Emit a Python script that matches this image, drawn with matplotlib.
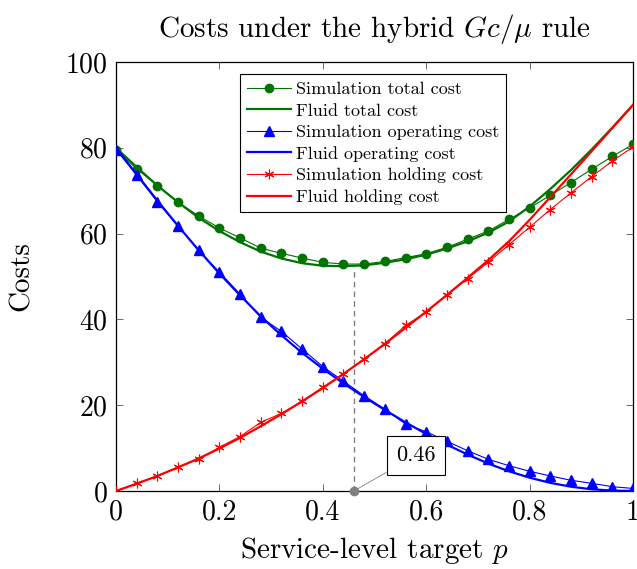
import matplotlib
matplotlib.use("Agg")
import matplotlib.pyplot as plt

plt.rcParams['font.family'] = 'serif'
plt.rcParams['font.serif'] = ['cmr10']
plt.rcParams['mathtext.fontset'] = 'cm'
plt.rcParams['axes.formatter.use_mathtext'] = True

p_sim = [0.00, 0.04, 0.08, 0.12, 0.16, 0.20, 0.24, 0.28, 0.32, 0.36, 0.40, 0.44, 0.48,
         0.52, 0.56, 0.60, 0.64, 0.68, 0.72, 0.76, 0.80, 0.84, 0.88, 0.92, 0.96, 1.00]

sim_total = [79.6, 75.1, 71.2, 67.3, 64.1, 61.3, 59.0, 56.6, 55.4, 54.3, 53.3, 52.9, 52.9,
             53.5, 54.4, 55.3, 56.8, 58.7, 60.6, 63.3, 66.0, 68.9, 71.9, 75.0, 78.0, 80.8]
sim_operating = [79.6, 73.6, 67.4, 61.7, 56.1, 51.0, 45.9, 40.5, 37.2, 33.1, 29.0, 25.6, 22.2,
                 19.1, 15.6, 13.8, 11.6, 9.4, 7.4, 5.9, 4.6, 3.5, 2.5, 1.8, 1.0, 0.6]
sim_holding = [0.0, 1.75, 3.5, 5.6, 7.4, 10.2, 12.7, 16.0, 18.1, 20.9, 24.2, 27.3, 30.8,
               34.3, 38.6, 41.7, 45.6, 49.5, 53.3, 57.4, 61.5, 65.6, 69.5, 73.3, 76.9, 80.2]

p_fluid = p_sim
fluid_operating = [80.0, 73.8, 67.7, 61.8, 56.1, 50.7, 45.6, 40.7, 36.3, 32.2, 28.5, 25.1, 21.9,
                   18.9, 16.0, 13.3, 10.8, 8.5, 6.4, 4.6, 3.1, 1.9, 1.0, 0.4, 0.1, 0.0]
fluid_holding = [0.0, 1.7, 3.5, 5.5, 7.6, 9.9, 12.4, 15.1, 17.9, 20.9, 24.0, 27.3, 30.7,
                 34.3, 38.0, 41.8, 45.7, 49.7, 53.8, 58.2, 63.2, 68.5, 73.8, 79.2, 84.6, 90.0]
fluid_total = [80.0, 75.5, 71.2, 67.3, 63.7, 60.6, 58.0, 55.8, 54.2, 53.1, 52.5, 52.4, 52.6,
               53.2, 54.0, 55.1, 56.5, 58.2, 60.2, 62.8, 66.3, 70.4, 74.8, 79.6, 84.7, 90.0]

p_opt = 0.46
opt_total = 52.3
opt_label = "0.46"

xticks = [0, 0.2, 0.4, 0.6, 0.8, 1]
xticklabels = ["0", "0.2", "0.4", "0.6", "0.8", "1"]
yticks = [0, 20, 40, 60, 80, 100]

green = (0, 0.45, 0)
blue = (0, 0, 1)
red = (1, 0, 0)

fig = plt.figure(figsize=(6.37, 5.69), dpi=100)
ax = fig.add_axes([116 / 637, 1 - 491 / 569, 517 / 637, 429 / 569])

ax.plot(p_sim, sim_total, color=green, lw=0.8, marker='o', ms=6,
        label='Simulation total cost', zorder=3)
ax.plot(p_fluid, fluid_total, color=green, lw=1.6, label='Fluid total cost', zorder=3)
ax.plot(p_sim, sim_operating, color=blue, lw=0.8, marker='^', ms=6.5,
        label='Simulation operating cost', zorder=3)
ax.plot(p_fluid, fluid_operating, color=blue, lw=1.6, label='Fluid operating cost', zorder=3)
ax.plot(p_sim, sim_holding, color=red, lw=0.8, marker=(6, 2, 0), ms=7, mew=0.8,
        label='Simulation holding cost', zorder=3)
ax.plot(p_fluid, fluid_holding, color=red, lw=1.6, label='Fluid holding cost', zorder=3)

ax.plot([p_opt, p_opt], [0, opt_total], color='gray', lw=1.0, ls=(0, (4, 3)), zorder=2)
ax.plot([p_opt], [0], 'o', color='gray', ms=6, zorder=5, clip_on=False)
ax.annotate(opt_label, xy=(p_opt, 0), xytext=(0.5416, 6.0),
            fontsize=16, ha='left', va='bottom',
            bbox=dict(boxstyle='square,pad=0.42', fc='white', ec='black', lw=0.8),
            arrowprops=dict(arrowstyle='-', color='gray', lw=0.6, shrinkA=0, shrinkB=3),
            zorder=6)

ax.set_xlim(0, 1)
ax.set_ylim(0, 100)
ax.set_xticks(xticks)
ax.set_xticklabels(xticklabels)
ax.set_yticks(yticks)
ax.tick_params(direction='in', length=5, width=0.6, color='#555555', labelsize=20,
               top=True, right=True, pad=6)
for s in ax.spines.values():
    s.set_linewidth(0.9)

ax.set_title(r'Costs under the hybrid $Gc/\mu$ rule', fontsize=21, pad=18)
ax.set_xlabel(r'Service-level target $p$', fontsize=21, labelpad=7)
ax.set_ylabel('Costs', fontsize=21, labelpad=22)

leg = ax.legend(loc='upper left', bbox_to_anchor=(124 / 517, 0.971), fontsize=13,
                frameon=True, fancybox=False, edgecolor='black', framealpha=1,
                handlelength=2.4, handletextpad=0.3, labelspacing=0.32,
                borderpad=0.4, borderaxespad=0)
leg.get_frame().set_linewidth(0.8)

fig.savefig('out.png', dpi=100)
